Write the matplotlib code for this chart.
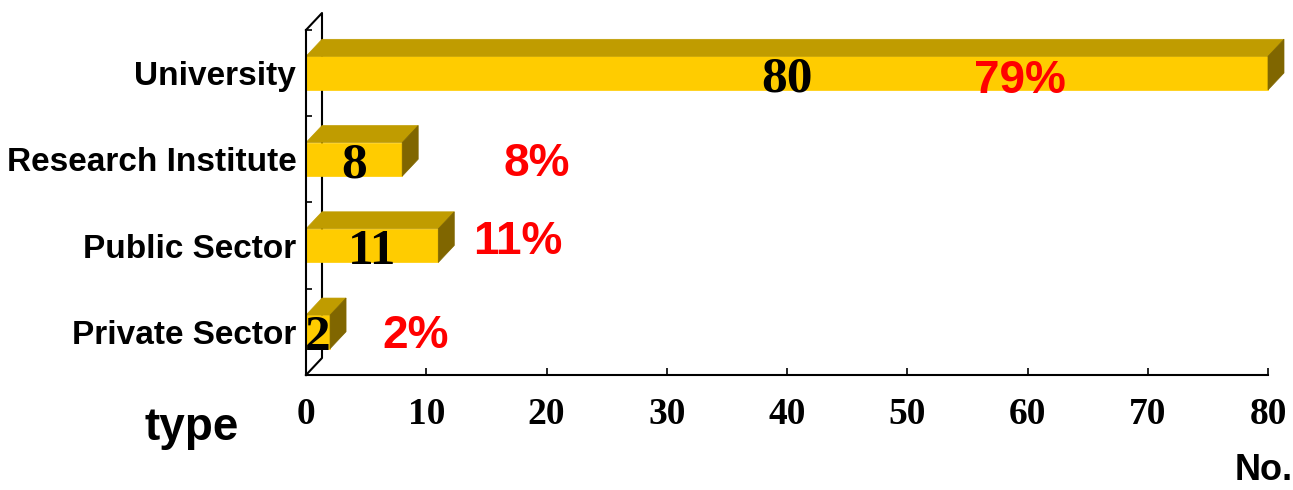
import numpy as np
import matplotlib
matplotlib.use('Agg')
import matplotlib.pyplot as plt
from matplotlib.patches import Polygon

# data (bottom to top as drawn)
categories = ['Private Sector', 'Public Sector', 'Research Institute', 'University']
counts = [2, 11, 8, 80]
percents = [2, 11, 8, 79]

# where the red percentage labels sit (x in data units)
pct_x = [9.1, 17.6, 19.2, 59.4]
pct_y = [0.0, 0.09, 0.0, -0.04]

FRONT = '#FFCC00'
TOP = '#C09C00'
SIDE = '#806600'

SANS = 'Liberation Sans'
SERIF = 'Liberation Serif'

fig = plt.figure(figsize=(12.93, 4.9), dpi=100)
ax = fig.add_axes([306 / 1293, 115 / 490, 962 / 1293, 345 / 490])
ax.set_xlim(0, 80)
ax.set_ylim(-0.5, 3.5)

# 3d depth offset in data units
dx = 16 / (962 / 80)
dy = 17 / (345 / 4)
half = 0.195

# back wall
ax.plot([0, dx, dx, 0], [3.5, 3.5 + dy, -0.5 + dy, -0.5],
        color='black', lw=1.5, clip_on=False, zorder=0.5)

for i, v in enumerate(counts):
    y0, y1 = i - half, i + half
    front = Polygon([(0, y0), (v, y0), (v, y1), (0, y1)],
                    closed=True, fc=FRONT, ec=FRONT, lw=0.5, clip_on=False, zorder=1)
    top = Polygon([(0, y1), (v, y1), (v + dx, y1 + dy), (dx, y1 + dy)],
                  closed=True, fc=TOP, ec=TOP, lw=0.5, clip_on=False, zorder=1)
    side = Polygon([(v, y0), (v + dx, y0 + dy), (v + dx, y1 + dy), (v, y1)],
                   closed=True, fc=SIDE, ec=SIDE, lw=0.5, clip_on=False, zorder=1)
    for p in (front, top, side):
        ax.add_patch(p)
    ax.text(v / 2, i - 0.21, str(v), ha='center', va='baseline',
            fontsize=37, fontweight='bold', family=SERIF, color='black', zorder=3)
    ax.text(pct_x[i], i + pct_y[i] - 0.19, '%d%%' % percents[i], ha='center', va='baseline',
            fontsize=33, fontweight='bold', family=SANS, color='red', zorder=3)

# axes styling
for s in ('top', 'right'):
    ax.spines[s].set_visible(False)
for s in ('left', 'bottom'):
    ax.spines[s].set_linewidth(1.5)

ax.set_xticks(np.arange(0, 81, 10))
ax.tick_params(axis='x', direction='in', length=5, width=1.2, pad=16)
for lab in ax.get_xticklabels():
    lab.set_fontfamily(SERIF)
    lab.set_fontweight('bold')
    lab.set_fontsize(27)

ax.set_yticks(range(len(categories)))
ax.set_yticklabels(categories)
ax.tick_params(axis='y', which='major', length=0, pad=7)
ax.set_yticks([0.5, 1.5, 2.5, 3.5], minor=True)
ax.tick_params(axis='y', which='minor', direction='in', length=4, width=1.2)
for lab in ax.get_yticklabels():
    lab.set_fontfamily(SANS)
    lab.set_fontweight('bold')
    lab.set_fontsize(24)

fig.text(192 / 1293, 62 / 490, 'type', ha='center', va='center',
         fontsize=33, fontweight='bold', family=SANS)
fig.text(1264 / 1293, 20 / 490, 'No.', ha='center', va='center',
         fontsize=26, fontweight='bold', family=SANS)

fig.savefig('out.png', dpi=100, facecolor='white')
